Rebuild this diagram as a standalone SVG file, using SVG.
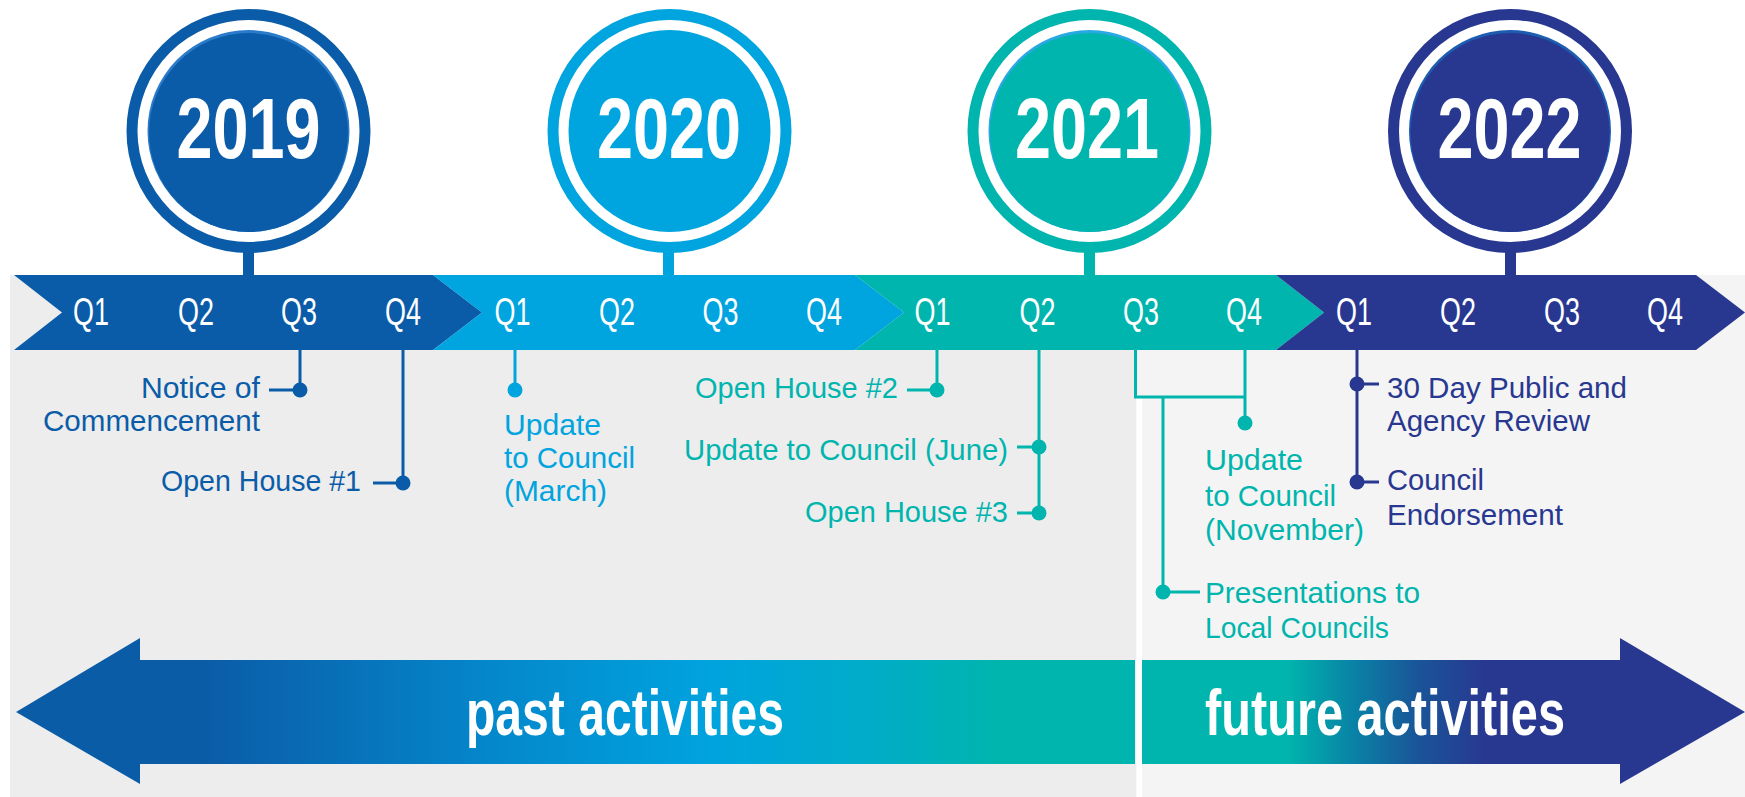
<svg xmlns="http://www.w3.org/2000/svg" width="1745" height="797" viewBox="0 0 1745 797">
  <style>
    .lbl{font-family:"Liberation Sans",Arial,sans-serif;font-size:29.5px}
    .yr{font-family:"Liberation Sans",Arial,sans-serif;font-weight:bold;font-size:85px;fill:#fff;text-anchor:middle}
    .q{font-family:"Liberation Sans",Arial,sans-serif;font-size:39px;fill:#fff;text-anchor:middle}
    .big{font-family:"Liberation Sans",Arial,sans-serif;font-weight:bold;font-size:64px;fill:#fff}
    .end{text-anchor:end}
    .t19{fill:#0b5ca8}.t20{fill:#00a4de}.t21{fill:#00b5ad}.t22{fill:#283891}
    .s19{stroke:#0b5ca8}.s20{stroke:#00a4de}.s21{stroke:#00b5ad}.s22{stroke:#283891}
    .ln{fill:none;stroke-width:3}
  </style>
  <defs>
    <linearGradient id="gPast" gradientUnits="userSpaceOnUse" x1="16" y1="0" x2="1135" y2="0">
      <stop offset="0" stop-color="#0b5ca7"/>
      <stop offset="0.17" stop-color="#0b5ca7"/>
      <stop offset="0.43" stop-color="#0488cc"/>
      <stop offset="0.62" stop-color="#00a3de"/>
      <stop offset="0.76" stop-color="#00acc8"/>
      <stop offset="0.88" stop-color="#00b5ad"/>
      <stop offset="1" stop-color="#00b5ad"/>
    </linearGradient>
    <linearGradient id="gFut" gradientUnits="userSpaceOnUse" x1="1142" y1="0" x2="1745" y2="0">
      <stop offset="0" stop-color="#00b5ad"/>
      <stop offset="0.24" stop-color="#00b5ad"/>
      <stop offset="0.36" stop-color="#0a7ea5"/>
      <stop offset="0.46" stop-color="#1a5498"/>
      <stop offset="0.57" stop-color="#283891"/>
      <stop offset="1" stop-color="#283891"/>
    </linearGradient>
  </defs>

  <rect width="1745" height="797" fill="#ffffff"/>
  <g id="background">
    <rect x="10" y="275" width="1126" height="522" fill="#ededed"/>
    <rect x="1136" y="275" width="609" height="522" fill="#f4f4f4"/>
    <rect x="1136.5" y="398" width="5.5" height="399" fill="#ffffff"/>
  </g>

  <g id="year-2019">
    <rect x="243" y="250" width="11" height="27" fill="#0b5ca8"/>
    <circle cx="248.5" cy="131" r="116.5" fill="#fff" stroke="#0b5ca8" stroke-width="11"/>
    <circle cx="248.5" cy="131" r="101" fill="#2a7ccb"/>
    <circle cx="248.5" cy="132.5" r="99.5" fill="#0b5ca8"/>
    <text class="yr" x="248.5" y="158" textLength="144" lengthAdjust="spacingAndGlyphs">2019</text>
    <polygon points="14,275 433,275 482,312.5 433,350 14,350 62,312.5" fill="#0b5ca8"/>
    <text class="q" x="91" y="325" textLength="36" lengthAdjust="spacingAndGlyphs">Q1</text>
    <text class="q" x="196" y="325" textLength="36" lengthAdjust="spacingAndGlyphs">Q2</text>
    <text class="q" x="299" y="325" textLength="36" lengthAdjust="spacingAndGlyphs">Q3</text>
    <text class="q" x="403" y="325" textLength="36" lengthAdjust="spacingAndGlyphs">Q4</text>
  </g>

  <g id="year-2020">
    <rect x="663" y="250" width="11" height="27" fill="#00a4de"/>
    <circle cx="669.5" cy="131" r="116.5" fill="#fff" stroke="#00a4de" stroke-width="11"/>
    <circle cx="669.5" cy="131" r="101" fill="#00a4de"/>
    <text class="yr" x="669" y="158" textLength="144" lengthAdjust="spacingAndGlyphs">2020</text>
    <polygon points="433,275 855,275 904,312.5 855,350 433,350 482,312.5" fill="#00a4de"/>
    <text class="q" x="512.5" y="325" textLength="36" lengthAdjust="spacingAndGlyphs">Q1</text>
    <text class="q" x="617" y="325" textLength="36" lengthAdjust="spacingAndGlyphs">Q2</text>
    <text class="q" x="720.5" y="325" textLength="36" lengthAdjust="spacingAndGlyphs">Q3</text>
    <text class="q" x="824" y="325" textLength="36" lengthAdjust="spacingAndGlyphs">Q4</text>
  </g>

  <g id="year-2021">
    <rect x="1084" y="250" width="11" height="27" fill="#00b5ad"/>
    <circle cx="1089.5" cy="131" r="116.5" fill="#fff" stroke="#00b5ad" stroke-width="11"/>
    <circle cx="1089.5" cy="131" r="101" fill="#2aa8e4"/>
    <circle cx="1089.5" cy="132.5" r="99.5" fill="#00b5ad"/>
    <text class="yr" x="1087" y="158" textLength="144" lengthAdjust="spacingAndGlyphs">2021</text>
    <polygon points="855,275 1276,275 1324,312.5 1276,350 855,350 904,312.5" fill="#00b5ad"/>
    <text class="q" x="932.5" y="325" textLength="36" lengthAdjust="spacingAndGlyphs">Q1</text>
    <text class="q" x="1037.5" y="325" textLength="36" lengthAdjust="spacingAndGlyphs">Q2</text>
    <text class="q" x="1141" y="325" textLength="36" lengthAdjust="spacingAndGlyphs">Q3</text>
    <text class="q" x="1244" y="325" textLength="36" lengthAdjust="spacingAndGlyphs">Q4</text>
  </g>

  <g id="year-2022">
    <rect x="1505" y="250" width="11" height="27" fill="#283891"/>
    <circle cx="1510" cy="131" r="116.5" fill="#fff" stroke="#283891" stroke-width="11"/>
    <circle cx="1510" cy="131" r="101" fill="#1c5db0"/>
    <circle cx="1510" cy="132.5" r="99.5" fill="#283891"/>
    <text class="yr" x="1509.5" y="158" textLength="144" lengthAdjust="spacingAndGlyphs">2022</text>
    <polygon points="1276,275 1696,275 1745,312.5 1696,350 1276,350 1324,312.5" fill="#283891"/>
    <text class="q" x="1354" y="325" textLength="36" lengthAdjust="spacingAndGlyphs">Q1</text>
    <text class="q" x="1458" y="325" textLength="36" lengthAdjust="spacingAndGlyphs">Q2</text>
    <text class="q" x="1562" y="325" textLength="36" lengthAdjust="spacingAndGlyphs">Q3</text>
    <text class="q" x="1665" y="325" textLength="36" lengthAdjust="spacingAndGlyphs">Q4</text>
  </g>

  <g id="connectors">
    <path class="ln s19" d="M300,350 V390 H269"/>
    <circle cx="300" cy="390" r="7.5" class="t19"/>
    <path class="ln s19" d="M403,350 V483 H373"/>
    <circle cx="403" cy="483" r="7.5" class="t19"/>
    <path class="ln s20" d="M515,350 V390"/>
    <circle cx="515" cy="390" r="7.5" class="t20"/>
    <path class="ln s21" d="M937,350 V390 H907"/>
    <circle cx="937" cy="390" r="7.5" class="t21"/>
    <path class="ln s21" d="M1039,350 V513 H1017 M1039,447 H1017"/>
    <circle cx="1039" cy="447" r="7.5" class="t21"/>
    <circle cx="1039" cy="513" r="7.5" class="t21"/>
    <path class="ln s21" d="M1135.5,350 V397 H1245 M1245,350 V423 M1163,397 V592 H1200"/>
    <circle cx="1245" cy="423" r="7.5" class="t21"/>
    <circle cx="1163" cy="592" r="7.5" class="t21"/>
    <path class="ln s22" d="M1357,350 V482 H1379 M1357,384 H1379"/>
    <circle cx="1357" cy="384" r="7.5" class="t22"/>
    <circle cx="1357" cy="482" r="7.5" class="t22"/>
  </g>

  <g id="notice-of-commencement">
    <text class="lbl t19 end"><tspan x="260" y="398" textLength="119" lengthAdjust="spacingAndGlyphs">Notice of</tspan><tspan x="260" y="431" textLength="217" lengthAdjust="spacingAndGlyphs">Commencement</tspan></text>
  </g>
  <g id="open-house-1">
    <text class="lbl t19 end" x="361" y="491" textLength="200" lengthAdjust="spacingAndGlyphs">Open House #1</text>
  </g>
  <g id="update-march">
    <text class="lbl t20"><tspan x="504" y="435" textLength="97" lengthAdjust="spacingAndGlyphs">Update</tspan><tspan x="504" y="468" textLength="131" lengthAdjust="spacingAndGlyphs">to Council</tspan><tspan x="504" y="501" textLength="103" lengthAdjust="spacingAndGlyphs">(March)</tspan></text>
  </g>
  <g id="open-house-2">
    <text class="lbl t21 end" x="898" y="398" textLength="203" lengthAdjust="spacingAndGlyphs">Open House #2</text>
  </g>
  <g id="update-june">
    <text class="lbl t21 end" x="1008" y="460" textLength="324" lengthAdjust="spacingAndGlyphs">Update to Council (June)</text>
  </g>
  <g id="open-house-3">
    <text class="lbl t21 end" x="1008" y="522" textLength="203" lengthAdjust="spacingAndGlyphs">Open House #3</text>
  </g>
  <g id="update-november">
    <text class="lbl t21"><tspan x="1205" y="470" textLength="98" lengthAdjust="spacingAndGlyphs">Update</tspan><tspan x="1205" y="506" textLength="131" lengthAdjust="spacingAndGlyphs">to Council</tspan><tspan x="1205" y="540" textLength="159" lengthAdjust="spacingAndGlyphs">(November)</tspan></text>
  </g>
  <g id="presentations">
    <text class="lbl t21"><tspan x="1205" y="603" textLength="215" lengthAdjust="spacingAndGlyphs">Presentations to</tspan><tspan x="1205" y="638" textLength="184" lengthAdjust="spacingAndGlyphs">Local Councils</tspan></text>
  </g>
  <g id="public-review">
    <text class="lbl t22"><tspan x="1387" y="398" textLength="240" lengthAdjust="spacingAndGlyphs">30 Day Public and</tspan><tspan x="1387" y="431" textLength="203" lengthAdjust="spacingAndGlyphs">Agency Review</tspan></text>
  </g>
  <g id="council-endorsement">
    <text class="lbl t22"><tspan x="1387" y="490" textLength="97" lengthAdjust="spacingAndGlyphs">Council</tspan><tspan x="1387" y="525" textLength="176" lengthAdjust="spacingAndGlyphs">Endorsement</tspan></text>
  </g>

  <g id="past-activities">
    <polygon points="16,712 140,638 140,660 1135,660 1135,764 140,764 140,784" fill="url(#gPast)"/>
    <text class="big" x="466" y="735" textLength="318" lengthAdjust="spacingAndGlyphs">past activities</text>
  </g>
  <g id="future-activities">
    <polygon points="1142,660 1620,660 1620,638 1745,712 1620,784 1620,764 1142,764" fill="url(#gFut)"/>
    <text class="big" x="1205" y="735" textLength="360" lengthAdjust="spacingAndGlyphs">future activities</text>
  </g>
</svg>
